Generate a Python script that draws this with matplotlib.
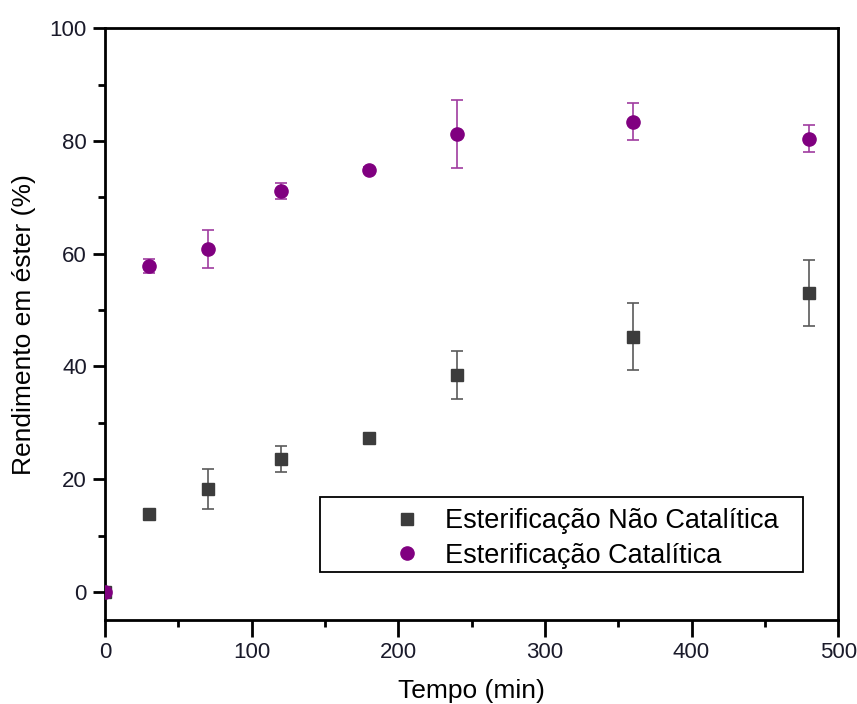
import numpy as np
import matplotlib
matplotlib.use('Agg')
import matplotlib.pyplot as plt
import matplotlib as mpl
from matplotlib.patches import Rectangle
from matplotlib.lines import Line2D
from matplotlib.ticker import MultipleLocator

mpl.rcParams['font.family'] = ['Liberation Sans', 'DejaVu Sans']

# data
tempo = [0, 30, 70, 120, 180, 240, 360, 480]

nao_cat = [0, 13.8, 18.3, 23.6, 27.4, 38.5, 45.3, 53.0]
nao_cat_err = [0, 0, 3.6, 2.3, 0, 4.2, 6.0, 5.9]

cat = [0, 57.8, 60.8, 71.1, 74.8, 81.2, 83.4, 80.4]
cat_err = [0, 1.2, 3.4, 1.4, 0.5, 6.0, 3.3, 2.4]

labels = ['Esterificação Não Catalítica', 'Esterificação Catalítica']

fig = plt.figure(figsize=(8.57, 7.04), dpi=100)
ax = fig.add_axes([0.1225, 0.119, 0.8555, 0.841])

ax.errorbar(tempo, nao_cat, yerr=nao_cat_err, fmt='s', color='#3c3c3c',
            ecolor='#5a5a5a', elinewidth=1.2, capsize=4.5, capthick=1.2,
            markersize=8.5, zorder=3)
ax.errorbar(tempo, cat, yerr=cat_err, fmt='o', color='#800080',
            ecolor='#a03ca0', elinewidth=1.2, capsize=4.5, capthick=1.2,
            markersize=9.5, zorder=4)

ax.set_xlim(0, 500)
ax.set_ylim(-5, 100)
ax.xaxis.set_major_locator(MultipleLocator(100))
ax.xaxis.set_minor_locator(MultipleLocator(50))
ax.yaxis.set_major_locator(MultipleLocator(20))
ax.yaxis.set_minor_locator(MultipleLocator(10))

for s in ax.spines.values():
    s.set_linewidth(2)
ax.tick_params(which='major', direction='out', length=9, width=2,
               labelsize=16, pad=4, top=False, right=False,
               labelcolor='#1a1a2a')
ax.tick_params(which='minor', direction='out', length=5, width=2,
               top=False, right=False)
ax.tick_params(axis='x', which='major', length=12)

ax.set_xlabel('Tempo (min)', fontsize=19, labelpad=11)
ax.set_ylabel('Rendimento em éster (%)', fontsize=19, labelpad=10)

# legend frame drawn separately, entries inside it
ax.add_patch(Rectangle((0.293, 0.081), 0.659, 0.127, transform=ax.transAxes,
                       fill=False, edgecolor='black', linewidth=1.3, zorder=5))
handles = [Line2D([], [], ls='none', marker='s', color='#3c3c3c', markersize=8.5),
           Line2D([], [], ls='none', marker='o', color='#800080', markersize=9.5)]
leg = ax.legend(handles, labels, loc='center left', bbox_to_anchor=(0.394, 0.138),
                frameon=False, fontsize=19.5, handlelength=1.0, handletextpad=0.9,
                borderpad=0, borderaxespad=0, labelspacing=0.3)

fig.savefig('out.png', dpi=100)
